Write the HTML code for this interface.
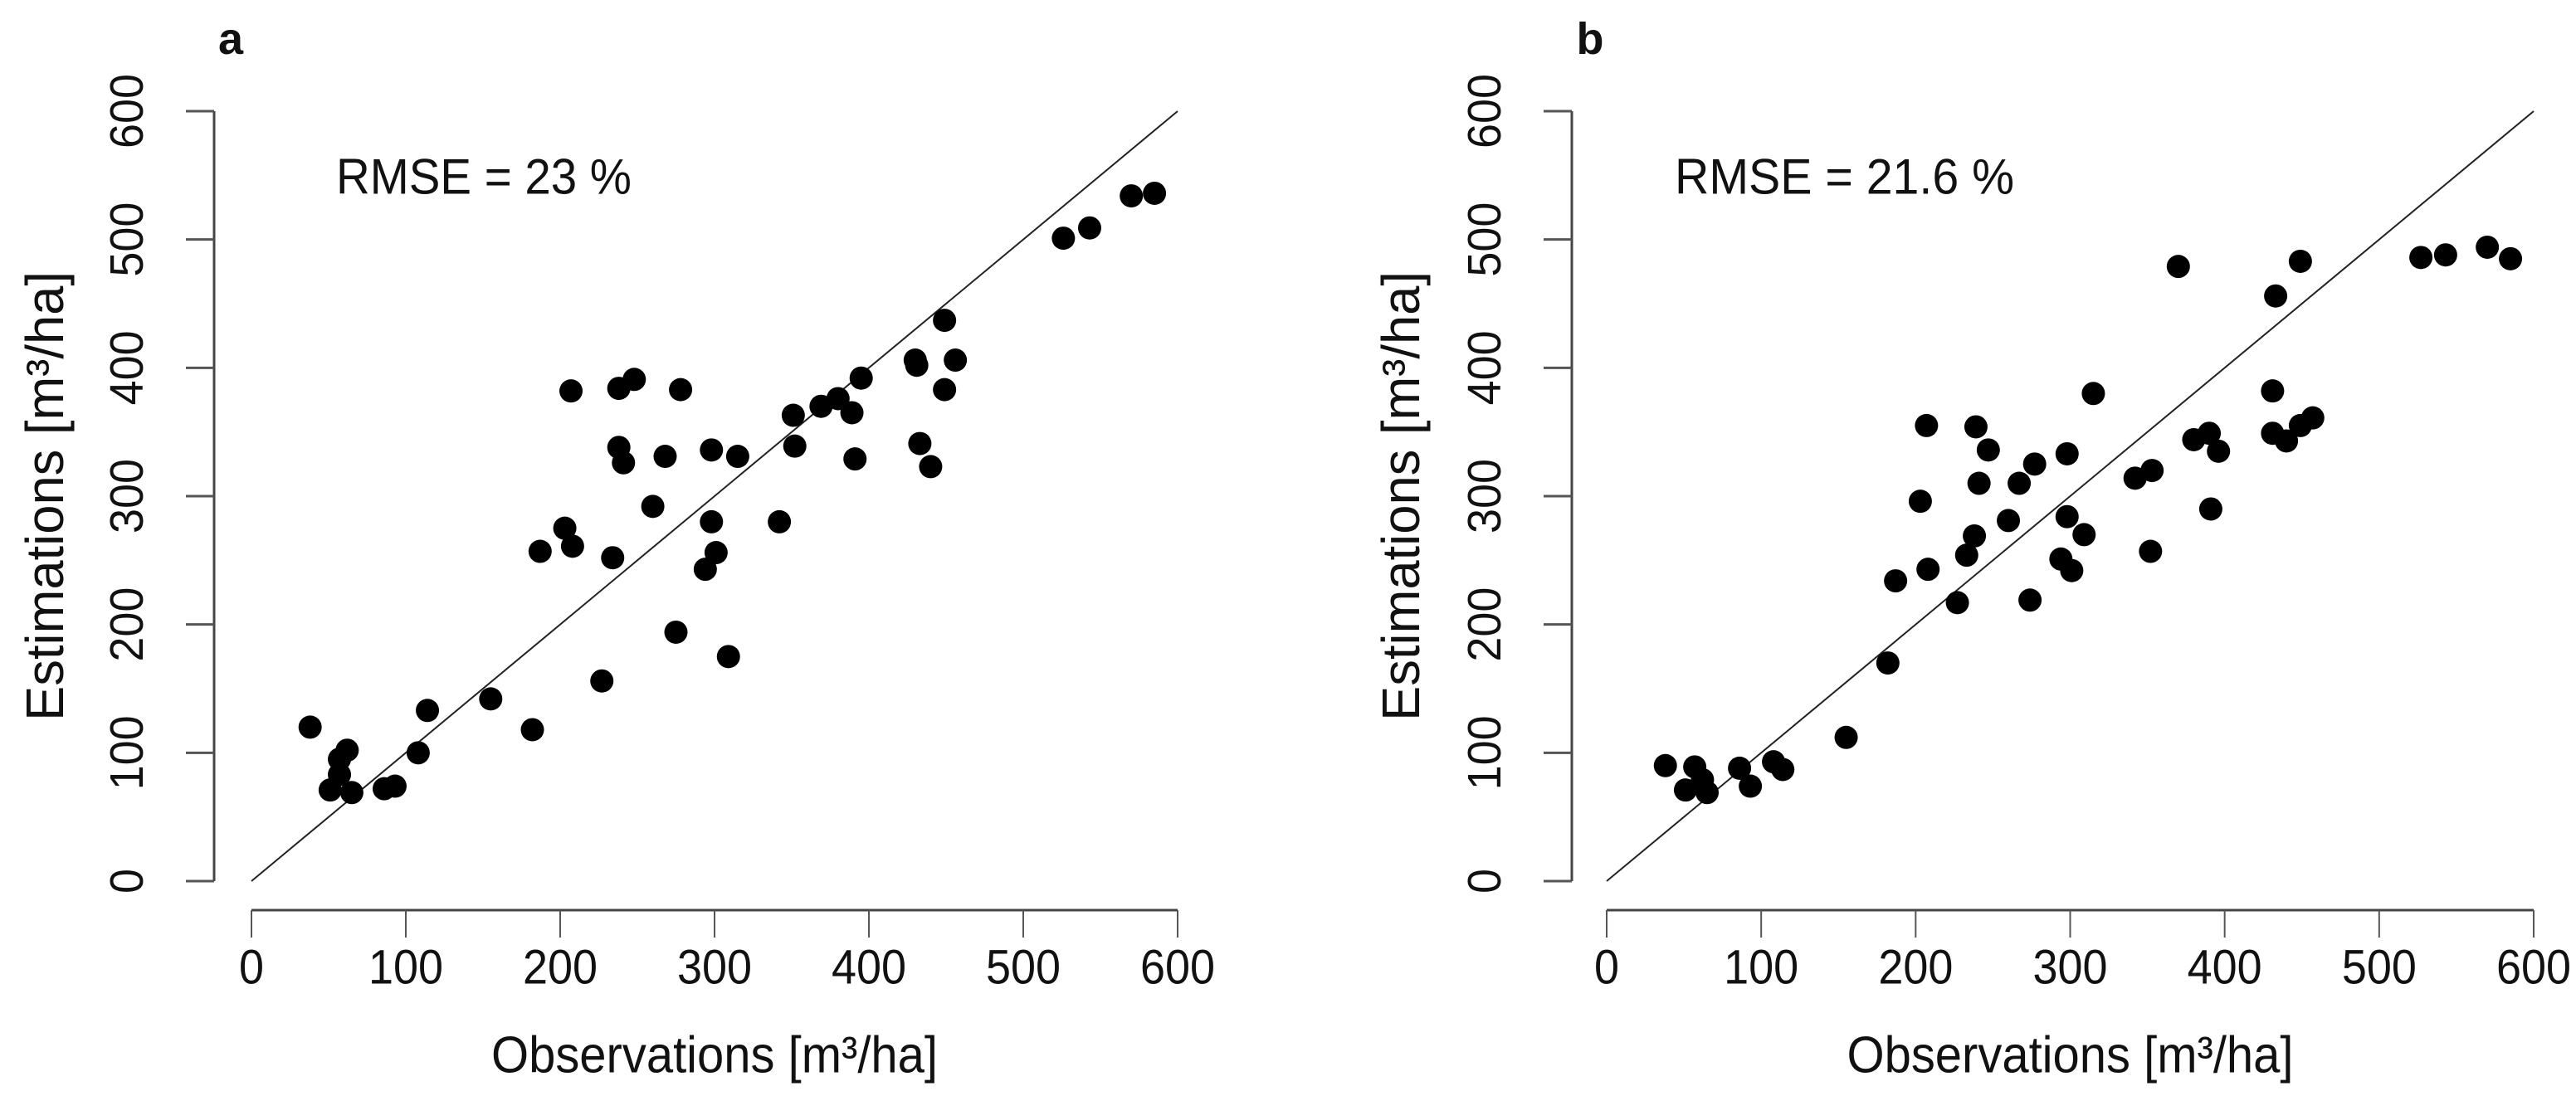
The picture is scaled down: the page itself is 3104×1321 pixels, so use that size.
<!DOCTYPE html>
<html><head><meta charset="utf-8"><style>
html,body{margin:0;padding:0;background:#fff}
svg{display:block}
text{font-family:"Liberation Sans",sans-serif;fill:#111}
</style></head><body>
<svg id="c" width="3104" height="1321" xmlns="http://www.w3.org/2000/svg"></svg>
<script>
const ticks = [0,100,200,300,400,500,600];
const obsA = [38,62,57,57,51,65,86,93,108,114,155,182,187,203,208,207,227,234,238,248,238,241,260,268,275,278,298,298,294,301,309,315,342,351,352,369,380,389,391,395,430,431,433,440,449,449,456,526,543,570,585];
const estA = [120,102,95,83,71,69,72,74,100,133,142,118,257,275,261,382,156,252,384,391,338,326,292,331,194,383,336,280,243,256,175,331,280,363,339,370,376,365,329,392,406,402,341,323,437,383,406,501,509,534,536];
const obsB = [38,57,51,62,65,86,93,108,114,155,182,187,203,208,207,227,233,238,239,241,247,260,267,277,274,298,298,294,301,309,315,342,353,352,370,380,390,396,391,431,431,433,440,449,449,457,527,543,570,585];
const estB = [90,89,71,79,69,88,74,93,87,112,170,234,296,243,355,217,254,269,354,310,336,281,310,325,219,333,284,251,242,270,380,314,320,257,479,344,349,335,290,382,349,456,343,355,483,361,486,488,494,485];
const panels = [
 {id:'a', label:'a', rmse:'RMSE = 23 %', obs:obsA, est:estA, x0:303, x1:1419, yAxisX:258, yTickX:153, yTitleX:54, labelX:278, rmseX:405, rmseW:356},
 {id:'b', label:'b', rmse:'RMSE = 21.6 %', obs:obsB, est:estB, x0:1936, x1:3053, yAxisX:1894, yTickX:1789, yTitleX:1688, labelX:1916, rmseX:2018, rmseW:409}
];
const NS='http://www.w3.org/2000/svg';
const svg=document.getElementById('c');
function mk(tag,attrs,parent,txt){const e=document.createElementNS(NS,tag);for(const k in attrs)e.setAttribute(k,attrs[k]);if(txt!==undefined)e.textContent=txt;(parent||svg).appendChild(e);return e;}
const Y0=1062, Y1=134;
const XAXIS=1097;
panels.forEach(p=>{
  const g=mk('g',{});
  
  
  const sx=v=>p.x0+(p.x1-p.x0)*v/600;
  const sy=v=>Y0+(Y1-Y0)*v/600;
  const ya=mk('line',{x1:p.yAxisX,y1:sy(0),x2:p.yAxisX,y2:sy(600),stroke:'#444','stroke-width':3},g);
  
  
  ticks.forEach(t=>{
    mk('line',{x1:p.yAxisX-34,y1:sy(t),x2:p.yAxisX,y2:sy(t),stroke:'#555','stroke-width':3},g);
    const s=String(t);
    const tl=mk('text',{x:p.yTickX,y:sy(t),'font-size':57,'text-anchor':'middle','dominant-baseline':'central',textLength:s.length*30,lengthAdjust:'spacingAndGlyphs',transform:`rotate(-90 ${p.yTickX} ${sy(t)})`},g,s);
    
    
  });
  const xa=mk('line',{x1:sx(0),y1:XAXIS,x2:sx(600),y2:XAXIS,stroke:'#444','stroke-width':3},g);
  
  
  ticks.forEach(t=>{
    mk('line',{x1:sx(t),y1:XAXIS,x2:sx(t),y2:XAXIS+33,stroke:'#555','stroke-width':2},g);
    const s=String(t);
    const tl=mk('text',{x:sx(t),y:1166,'font-size':58,'text-anchor':'middle','dominant-baseline':'central',textLength:s.length*30,lengthAdjust:'spacingAndGlyphs'},g,s);
    
    
  });
  const l=mk('line',{x1:sx(0),y1:sy(0),x2:sx(600),y2:sy(600),stroke:'#222','stroke-width':2},g);
  
  
  p.obs.forEach((o,i)=>{
    const c=mk('circle',{cx:sx(o),cy:sy(p.est[i]),r:14,fill:'#000'},g);
    
    
  });
  const xt=mk('text',{x:(p.x0+p.x1)/2,y:1272,'font-size':62,'text-anchor':'middle','dominant-baseline':'central',textLength:538,lengthAdjust:'spacingAndGlyphs'},g,'Observations [m³/ha]');
  
  
  const yc=598;
  const yt=mk('text',{x:p.yTitleX,y:yc,'font-size':64,'text-anchor':'middle','dominant-baseline':'central',textLength:542,lengthAdjust:'spacingAndGlyphs',transform:`rotate(-90 ${p.yTitleX} ${yc})`},g,'Estimations [m³/ha]');
  
  
  const pl=mk('text',{x:p.labelX,y:47,'font-size':54,'font-weight':'bold','text-anchor':'middle','dominant-baseline':'central'},g,p.label);
  
  
  const rt=mk('text',{x:p.rmseX,y:213,'font-size':60,'dominant-baseline':'central',textLength:p.rmseW,lengthAdjust:'spacingAndGlyphs'},g,p.rmse);
  
  
});
</script>
</body></html>
